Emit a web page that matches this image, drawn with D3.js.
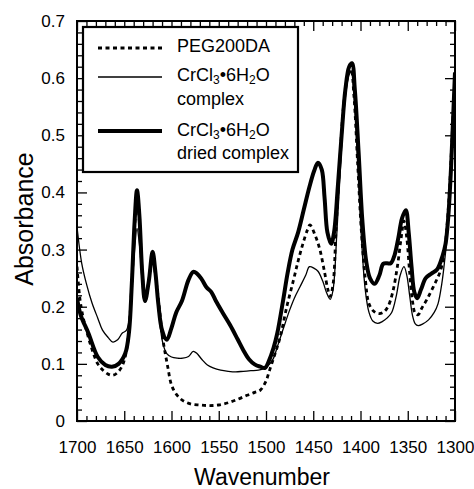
<!DOCTYPE html>
<html>
<head>
<meta charset="utf-8">
<script src="https://cdn.jsdelivr.net/npm/d3@7"></script>
<style>
  body { margin: 0; background: #fff; }
  svg { display: block; font-family: 'Liberation Sans', Arial, Helvetica, sans-serif; }
</style>
</head>
<body>
<svg id="chart" width="474" height="489"></svg>
<script>
// [wavenumber, absorbance]
const pegSpectrum = [
  [1700, 0.27], [1697, 0.215], [1694, 0.185], [1691, 0.165], [1685, 0.13], [1678, 0.1],
  [1672, 0.088], [1667, 0.082], [1662, 0.08], [1657, 0.085], [1652, 0.097], [1648, 0.12],
  [1645, 0.16], [1642, 0.24], [1639, 0.34], [1636.5, 0.39], [1634, 0.35], [1631, 0.26],
  [1628, 0.21], [1624, 0.245], [1620, 0.29], [1617, 0.255], [1613, 0.2], [1609, 0.142],
  [1604, 0.095], [1600, 0.063], [1595, 0.047], [1589, 0.037], [1580, 0.03], [1570, 0.028],
  [1560, 0.027], [1550, 0.028], [1540, 0.032], [1530, 0.038], [1520, 0.045], [1512, 0.05],
  [1506, 0.054], [1500, 0.07], [1496, 0.09], [1490, 0.12], [1485, 0.147], [1478, 0.2],
  [1471, 0.246], [1466, 0.28], [1461, 0.31], [1456, 0.335], [1453.5, 0.343], [1448, 0.325],
  [1443, 0.3], [1438, 0.26], [1434.5, 0.23], [1432, 0.218], [1429, 0.24], [1426, 0.33],
  [1422, 0.45], [1418, 0.55], [1414, 0.6], [1410, 0.615], [1407, 0.57], [1403, 0.45],
  [1399, 0.33], [1395, 0.25], [1391, 0.205], [1386, 0.192], [1381, 0.188], [1376, 0.19],
  [1371, 0.2], [1366, 0.225], [1361, 0.27], [1357, 0.32], [1354, 0.35], [1351, 0.32],
  [1348, 0.26], [1345, 0.21], [1342, 0.188], [1339, 0.186], [1335, 0.198], [1330, 0.212],
  [1325, 0.228], [1320, 0.245], [1316, 0.26], [1312, 0.285], [1309, 0.33], [1306, 0.4],
  [1303, 0.5], [1300, 0.6]
]

const complexSpectrum = [
  [1700, 0.34], [1695, 0.276], [1690, 0.24], [1684, 0.206], [1678, 0.18], [1673, 0.159],
  [1667, 0.146], [1662, 0.138], [1657, 0.142], [1652, 0.154], [1648, 0.158], [1645, 0.175],
  [1642, 0.23], [1639, 0.3], [1636.5, 0.337], [1634, 0.31], [1631, 0.25], [1628, 0.21],
  [1624, 0.24], [1620, 0.29], [1617, 0.25], [1613, 0.18], [1609, 0.135], [1605, 0.118],
  [1600, 0.112], [1594, 0.11], [1588, 0.11], [1582, 0.113], [1577, 0.122], [1573, 0.118],
  [1568, 0.108], [1562, 0.098], [1556, 0.093], [1548, 0.089], [1540, 0.087], [1532, 0.086],
  [1524, 0.087], [1516, 0.088], [1508, 0.089], [1502, 0.092], [1496, 0.1], [1492, 0.11],
  [1488, 0.13], [1482, 0.16], [1475, 0.194], [1470, 0.215], [1464, 0.235], [1458, 0.255],
  [1454, 0.27], [1449, 0.267], [1445, 0.262], [1440, 0.245], [1436, 0.225], [1432, 0.213],
  [1429, 0.23], [1425, 0.33], [1421, 0.45], [1417, 0.55], [1413, 0.6], [1410, 0.613],
  [1407, 0.57], [1403, 0.45], [1399, 0.32], [1395, 0.23], [1391, 0.19], [1387, 0.175],
  [1382, 0.171], [1377, 0.174], [1372, 0.18], [1367, 0.19], [1362, 0.22], [1358, 0.255],
  [1354, 0.27], [1351, 0.255], [1348, 0.22], [1345, 0.185], [1342, 0.17], [1339, 0.167],
  [1334, 0.17], [1328, 0.177], [1322, 0.19], [1318, 0.205], [1314, 0.24], [1311, 0.28],
  [1308, 0.33], [1305, 0.42], [1302, 0.52], [1300, 0.6]
]

const driedSpectrum = [
  [1700, 0.215], [1696, 0.185], [1688, 0.154], [1678, 0.112], [1670, 0.098], [1663, 0.095],
  [1656, 0.1], [1649, 0.118], [1645, 0.155], [1642, 0.24], [1639, 0.35], [1636.5, 0.404],
  [1634, 0.36], [1631, 0.26], [1628, 0.21], [1624, 0.245], [1620, 0.296], [1617, 0.26],
  [1614, 0.206], [1610, 0.159], [1605, 0.142], [1600, 0.163], [1595, 0.19], [1589, 0.21],
  [1582, 0.247], [1577, 0.261], [1573, 0.258], [1568, 0.248], [1563, 0.234], [1558, 0.226],
  [1553, 0.21], [1546, 0.19], [1538, 0.168], [1530, 0.143], [1524, 0.124], [1518, 0.108],
  [1512, 0.099], [1506, 0.095], [1501, 0.093], [1497, 0.105], [1492, 0.128], [1488, 0.154],
  [1482, 0.21], [1477, 0.26], [1472, 0.3], [1466, 0.33], [1460, 0.37], [1454, 0.41],
  [1449, 0.438], [1445, 0.452], [1441, 0.44], [1438, 0.39], [1435, 0.33], [1431, 0.31],
  [1428, 0.33], [1424, 0.41], [1420, 0.5], [1416, 0.58], [1412, 0.62], [1409, 0.626],
  [1406, 0.58], [1402, 0.47], [1398, 0.35], [1394, 0.28], [1390, 0.25], [1385, 0.24],
  [1380, 0.255], [1376, 0.275], [1372, 0.276], [1368, 0.276], [1364, 0.29], [1360, 0.32],
  [1356, 0.355], [1352, 0.369], [1349, 0.33], [1346, 0.27], [1343, 0.225], [1340, 0.215],
  [1336, 0.23], [1331, 0.25], [1325, 0.258], [1319, 0.265], [1313, 0.29], [1310, 0.31],
  [1307, 0.36], [1304, 0.45], [1302, 0.53], [1300, 0.61]
]

const xMajorTicks = [1700, 1650, 1600, 1550, 1500, 1450, 1400, 1350, 1300]
const yMajorTicks = [0, 0.1, 0.2, 0.3, 0.4, 0.5, 0.6, 0.7]
const legendLabels = ['PEG200DA', 'CrCl3•6H2O complex', 'CrCl3•6H2O dried complex']

const svg = d3.select('#chart')
const margin = { left: 77, top: 21, right: 19, bottom: 68 }
const width = 474 - margin.left - margin.right
const height = 489 - margin.top - margin.bottom

const x = d3.scaleLinear().domain([1700, 1300]).range([0, width])
const y = d3.scaleLinear().domain([0, 0.7]).range([height, 0])

const g = svg.append('g').attr('transform', `translate(${margin.left},${margin.top})`)

const xMinor = d3.range(1700, 1299, -10).filter(v => v % 50 !== 0)
const yMinor = d3.range(0, 0.701, 0.02).filter(v => Math.abs(v * 10 - Math.round(v * 10)) > 1e-6)

function styleAxis (sel) {
  sel.select('.domain').remove()
  sel.selectAll('.tick line').attr('stroke', '#000').attr('stroke-width', 1.3)
  sel.selectAll('.tick text').attr('fill', '#000').style('font-size', '17px')
}

// bottom axis with labels
g.append('g').attr('transform', `translate(0,${height})`)
  .call(d3.axisBottom(x).tickValues(xMajorTicks).tickFormat(d3.format('d')).tickSizeInner(-10).tickSizeOuter(0).tickPadding(20))
  .call(styleAxis)
g.append('g').attr('transform', `translate(0,${height})`)
  .call(d3.axisBottom(x).tickValues(xMinor).tickFormat('').tickSizeInner(-5).tickSizeOuter(0))
  .call(styleAxis)
// top
g.append('g')
  .call(d3.axisTop(x).tickValues(xMajorTicks).tickFormat('').tickSizeInner(-10).tickSizeOuter(0))
  .call(styleAxis)
g.append('g')
  .call(d3.axisTop(x).tickValues(xMinor).tickFormat('').tickSizeInner(-5).tickSizeOuter(0))
  .call(styleAxis)
// left axis with labels
g.append('g')
  .call(d3.axisLeft(y).tickValues(yMajorTicks).tickFormat(d => d === 0 ? '0' : d3.format('.1f')(d)).tickSizeInner(-10).tickSizeOuter(0).tickPadding(12))
  .call(styleAxis)
g.append('g')
  .call(d3.axisLeft(y).tickValues(yMinor).tickFormat('').tickSizeInner(-5).tickSizeOuter(0))
  .call(styleAxis)
// right
g.append('g').attr('transform', `translate(${width},0)`)
  .call(d3.axisRight(y).tickValues(yMajorTicks).tickFormat('').tickSizeInner(-10).tickSizeOuter(0))
  .call(styleAxis)
g.append('g').attr('transform', `translate(${width},0)`)
  .call(d3.axisRight(y).tickValues(yMinor).tickFormat('').tickSizeInner(-5).tickSizeOuter(0))
  .call(styleAxis)

// curves
g.append('clipPath').attr('id', 'plot-clip')
  .append('rect').attr('width', width).attr('height', height)

const line = d3.line()
  .x(d => x(d[0]))
  .y(d => y(d[1]))
  .curve(d3.curveCatmullRom.alpha(0.5))

const series = [
  { data: pegSpectrum, width: 2.8, dash: '4,3.5' },
  { data: complexSpectrum, width: 1.3, dash: null },
  { data: driedSpectrum, width: 4, dash: null }
]

g.append('g').attr('clip-path', 'url(#plot-clip)')
  .selectAll('path')
  .data(series)
  .join('path')
  .attr('d', d => line(d.data))
  .attr('fill', 'none')
  .attr('stroke', '#000')
  .attr('stroke-width', d => d.width)
  .attr('stroke-dasharray', d => d.dash)
  .attr('stroke-linejoin', 'round')

// frame
g.append('rect')
  .attr('width', width).attr('height', height)
  .attr('fill', 'none').attr('stroke', '#000').attr('stroke-width', 2)

// legend
const legend = g.append('g').attr('transform', 'translate(6,6)')
legend.append('rect')
  .attr('width', 215).attr('height', 145)
  .attr('fill', '#fff').attr('stroke', '#000').attr('stroke-width', 2.2)

const legendRows = [
  { lineY: 21, textY: 25, second: null },
  { lineY: 50, textY: 54, second: 78 },
  { lineY: 104, textY: 109, second: 132 }
]

function addFormula (textSel) {
  // CrCl3•6H2O with subscripts
  textSel.append('tspan').text('CrCl')
  textSel.append('tspan').text('3').style('font-size', '12px').attr('dy', 3)
  textSel.append('tspan').text('•6H').attr('dy', -3)
  textSel.append('tspan').text('2').style('font-size', '12px').attr('dy', 3)
  textSel.append('tspan').text('O').attr('dy', -3)
}

legendRows.forEach((row, i) => {
  const s = series[i]
  legend.append('line')
    .attr('x1', 15).attr('x2', 79)
    .attr('y1', row.lineY).attr('y2', row.lineY)
    .attr('stroke', '#000')
    .attr('stroke-width', s.width)
    .attr('stroke-dasharray', s.dash)
  const t = legend.append('text')
    .attr('x', 94).attr('y', row.textY)
    .style('font-size', '18px')
  if (i === 0) {
    t.text(legendLabels[0])
  } else {
    addFormula(t)
    legend.append('text')
      .attr('x', 94).attr('y', row.second)
      .style('font-size', '18px')
      .text(legendLabels[i].replace('CrCl3•6H2O ', ''))
  }
})

// axis titles
svg.append('text')
  .attr('x', margin.left + width / 2 - 4)
  .attr('y', 485)
  .attr('text-anchor', 'middle')
  .style('font-size', '23px')
  .text('Wavenumber')

svg.append('text')
  .attr('transform', 'translate(33,219) rotate(-90)')
  .attr('text-anchor', 'middle')
  .style('font-size', '25px')
  .text('Absorbance')
</script>
</body>
</html>
